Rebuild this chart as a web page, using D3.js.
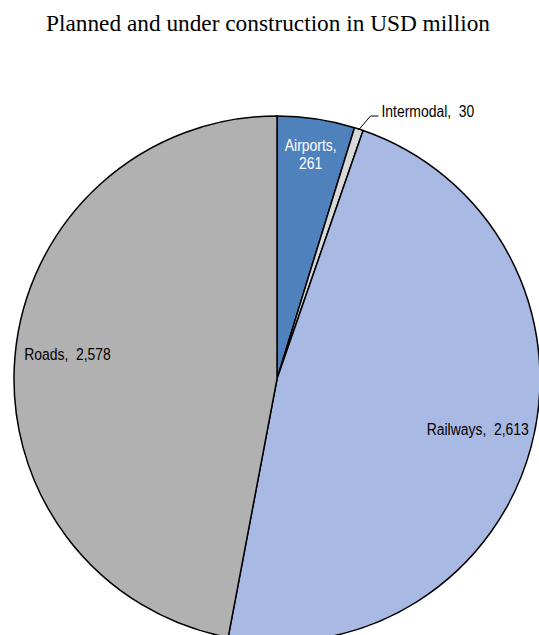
<!DOCTYPE html>
<html>
<head>
<meta charset="utf-8">
<script src="https://cdn.jsdelivr.net/npm/d3@7"></script>
<style>
  html, body { margin: 0; padding: 0; background: #fff; overflow: hidden; }
  svg { display: block; }
  .lbl { font-family: "Liberation Sans", Arial, sans-serif; font-size: 16px; }
</style>
</head>
<body>
<script>
// Transport infrastructure projects, planned and under construction (USD million)
const categories = ["Airports", "Intermodal", "Railways", "Roads"];
const values = [261, 30, 2613, 2578];
const colors = ["#4F81BD", "#D9D9D9", "#A8B9E3", "#B1B1B1"];
const labelColors = ["#ffffff", "#000000", "#000000", "#000000"];
const title = "Planned and under construction in USD million";

const W = 539, H = 635;
const cx = 277, cy = 379, R = 263;
const narrow = 0.87; // horizontal squeeze for a condensed label face

const svg = d3.select("body").append("svg").attr("width", W).attr("height", H);

svg.append("text")
  .attr("x", 268).attr("y", 31)
  .attr("text-anchor", "middle")
  .style("font-family", "'Times New Roman', 'Liberation Serif', serif")
  .style("font-size", "23.3px")
  .attr("fill", "#000")
  .text(title);

const data = categories.map((c, i) => ({ name: c, value: values[i], color: colors[i], lc: labelColors[i] }));

const pie = d3.pie().sort(null).value(d => d.value);
const arcs = pie(data);
const arc = d3.arc().innerRadius(0).outerRadius(R);

const g = svg.append("g").attr("transform", `translate(${cx},${cy})`);

g.selectAll("path.slice")
  .data(arcs)
  .join("path")
  .attr("class", "slice")
  .attr("d", arc)
  .attr("fill", d => d.data.color)
  .attr("stroke", "#000")
  .attr("stroke-width", 1.5)
  .attr("stroke-linejoin", "round");

const fmt = d3.format(",");
const mid = d => (d.startAngle + d.endAngle) / 2;
const pt = (a, r) => [Math.sin(a) * r, -Math.cos(a) * r];

// Condensed text anchored at (x, y)
const labelAt = (x, y, anchor, color) =>
  g.append("text").attr("class", "lbl")
    .attr("transform", `translate(${x},${y}) scale(${narrow},1)`)
    .attr("text-anchor", anchor)
    .attr("fill", color);

// Label radius (as a share of R) and baseline shift per slice
const labelRadius = { Airports: 0.86, Railways: 0.79, Roads: 0.8 };
const baseShift = { Airports: 0, Railways: 3, Roads: 0.5 };

arcs.forEach(d => {
  const a = mid(d);
  if (d.data.name === "Intermodal") {
    // thin slice: outside label with a leader line
    const p0 = pt(a, R - 1);
    const p1 = [p0[0] + 12, p0[1] - 14];
    const p2 = [p1[0] + 8, p1[1]];
    g.append("polyline")
      .attr("points", [p0, p1, p2].map(p => p.join(",")).join(" "))
      .attr("fill", "none").attr("stroke", "#000").attr("stroke-width", 1);
    labelAt(p2[0] + 3, p2[1] + 1, "start", d.data.lc)
      .text(`${d.data.name},\u00a0 ${fmt(d.data.value)}`);
  } else if (d.data.name === "Airports") {
    // two-line label inside the slice
    const [x, y] = pt(a, R * labelRadius[d.data.name]);
    labelAt(x, y - 4, "middle", d.data.lc).text(`${d.data.name},`);
    labelAt(x, y + 13.5, "middle", d.data.lc).text(fmt(d.data.value));
  } else {
    const [x, y] = pt(a, R * labelRadius[d.data.name]);
    labelAt(x, y + baseShift[d.data.name], "middle", d.data.lc)
      .text(`${d.data.name},\u00a0 ${fmt(d.data.value)}`);
  }
});
</script>
</body>
</html>
